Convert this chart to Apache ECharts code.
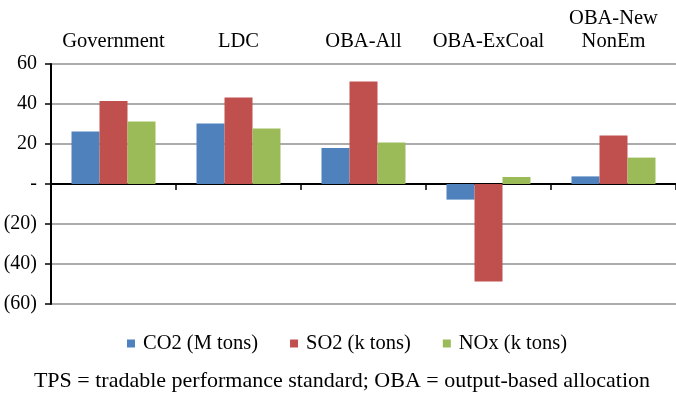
<!DOCTYPE html>
<html>
<head>
<meta charset="utf-8">
<script src="https://cdn.jsdelivr.net/npm/echarts@6/dist/echarts.min.js"></script>
<style>
html,body{margin:0;padding:0;background:#fff;}
#chart{width:676px;height:393px;}
</style>
</head>
<body>
<div id="chart"></div>
<script>
const categories = ['Government', 'LDC', 'OBA-All', 'OBA-ExCoal', 'OBA-New\nNonEm'];
const seriesNames = ['CO2 (M tons)', 'SO2 (k tons)', 'NOx (k tons)'];
const co2 = [26.3, 30.2, 18.0, -7.8, 3.8];
const so2 = [41.5, 43.2, 51.2, -48.8, 24.3];
const nox = [31.3, 27.8, 20.8, 3.5, 13.2];
const yTicks = [-60, -40, -20, 0, 20, 40, 60];
const footnote = 'TPS = tradable performance standard; OBA = output-based allocation';

const FONT = '"Liberation Serif", "Times New Roman", serif';
const colors = ['#4F81BD', '#C0504D', '#9BBB59'];
const values = [co2, so2, nox];

const chart = echarts.init(document.getElementById('chart'), null, {renderer: 'canvas'});
chart.setOption({
  animation: false,
  backgroundColor: '#fff',
  color: colors,
  textStyle: {fontFamily: FONT},
  grid: {left: 51, right: -5, top: 64, bottom: 89, containLabel: false},
  legend: {
    data: seriesNames,
    left: 122,
    top: 328,
    icon: 'rect',
    itemWidth: 8,
    itemHeight: 8,
    itemGap: 32,
    textStyle: {fontFamily: FONT, fontSize: 20.5, color: '#000', padding: [0, 0, 0, 3]}
  },
  graphic: [{
    type: 'text',
    x: 342,
    y: 381,
    style: {text: footnote, font: '22px ' + FONT, fill: '#000', textAlign: 'center', textVerticalAlign: 'middle'}
  }],
  xAxis: [{
    type: 'category',
    data: categories,
    position: 'bottom',
    axisLine: {onZero: true, lineStyle: {color: '#000', width: 2}},
    axisTick: {show: true, interval: 0, length: 6, lineStyle: {color: '#000', width: 1.5}},
    axisLabel: {show: false},
    splitLine: {show: false}
  }, {
    type: 'category',
    data: categories,
    position: 'top',
    axisLine: {show: false},
    axisTick: {show: false},
    axisLabel: {show: true, interval: 0, margin: 11, fontFamily: FONT, fontSize: 20.5, color: '#000', lineHeight: 23},
    splitLine: {show: false}
  }],
  yAxis: {
    type: 'value',
    min: yTicks[0],
    max: yTicks[yTicks.length - 1],
    interval: 20,
    axisLine: {show: true, lineStyle: {color: '#000', width: 2}},
    axisTick: {show: true, length: 6, lineStyle: {color: '#000', width: 1.5}},
    axisLabel: {
      margin: 14,
      fontFamily: FONT, fontSize: 20, color: '#000',
      formatter: v => v > 0 ? String(v) : (v === 0 ? '-' : '(' + (-v) + ')')
    },
    splitLine: {show: true, lineStyle: {color: '#ABABAB', width: 2}}
  },
  series: seriesNames.map((name, i) => ({
    name: name,
    type: 'bar',
    xAxisIndex: 0,
    data: values[i],
    barWidth: 28,
    barGap: '0%',
    itemStyle: {color: colors[i]}
  }))
});
</script>
</body>
</html>
